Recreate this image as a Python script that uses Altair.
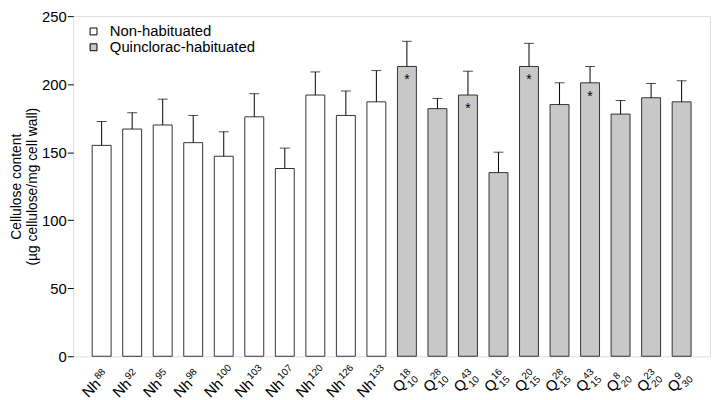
import altair as alt
import pandas as pd

# ---- data ----
base = ["Nh"] * 10 + ["Q"] * 10
sup = ["88", "92", "95", "98", "100", "103", "107", "120", "126", "133",
       "18", "28", "43", "16", "20", "28", "43", "8", "23", "9"]
sub = [""] * 10 + ["10", "10", "10", "15", "15", "15", "15", "20", "20", "30"]
values = [155, 167, 170, 157, 147, 176, 138, 192, 177, 187,
          213, 182, 192, 135, 213, 185, 201, 178, 190, 187]
errors = [17.5, 12, 19, 20, 18, 17, 15, 17, 18, 23,
          18.5, 7.5, 17.5, 15, 17, 16, 12, 10, 10.5, 15.5]
groups = ["Non-habituated"] * 10 + ["Quinclorac-habituated"] * 10
stars = [False] * 10 + [True, False, True, False, True, False, True, False, False, False]

ids = [f"{b}{p}_{s}" for b, p, s in zip(base, sup, sub)]
df = pd.DataFrame({
    "id": ids, "base": base, "sup": sup, "sub": sub,
    "value": values, "err": errors, "group": groups, "star": stars,
})
df["top"] = df["value"] + df["err"]
df["starText"] = ["*" if s else "" for s in stars]

W, H = 644, 344
FONT = "Liberation Sans"

x = alt.X("id:N", sort=ids, axis=None,
          scale=alt.Scale(paddingInner=0.38, paddingOuter=0.62))
y_scale = alt.Scale(domain=[0, 250], nice=False)

bars = alt.Chart(df).mark_bar(stroke="#333333", strokeWidth=1).encode(
    x=x,
    y=alt.Y("value:Q", scale=y_scale,
            axis=alt.Axis(values=[0, 50, 100, 150, 200, 250], grid=False,
                          domain=False, tickColor="black", tickSize=6,
                          labelFontSize=15, labelColor="black", labelFont=FONT,
                          labelPadding=1,
                          title=["Cellulose content", "(µg cellulose/mg cell wall)"],
                          titleFontSize=14, titleFont=FONT, titleFontWeight="normal",
                          titleColor="black", titleLineHeight=16,
                          titleAngle=270, titleAlign="center", titleBaseline="bottom",
                          titleX=-50, titleY=H / 2)),
    color=alt.Color("group:N",
                    scale=alt.Scale(domain=["Non-habituated", "Quinclorac-habituated"],
                                    range=["#ffffff", "#c8c8c8"]),
                    legend=alt.Legend(orient="none", legendX=13, legendY=8, title=None,
                                      symbolType="square", symbolSize=49,
                                      symbolStrokeColor="black", symbolStrokeWidth=1,
                                      labelFontSize=15, labelFont=FONT, labelColor="black",
                                      labelOffset=9, rowPadding=-1)),
)

err_rule = alt.Chart(df).mark_rule(color="black", strokeWidth=1).encode(
    x=x, y=alt.Y("value:Q", scale=y_scale), y2="top:Q")

err_cap = alt.Chart(df).mark_tick(color="black", thickness=1, size=10).encode(
    x=x, y=alt.Y("top:Q", scale=y_scale))

star_text = alt.Chart(df).mark_text(fontSize=14, font=FONT, color="black",
                                    baseline="alphabetic", dy=18).encode(
    x=x, y=alt.Y("value:Q", scale=y_scale), text="starText:N")

LY = H + 29
base_text = alt.Chart(df).mark_text(fontSize=15, font=FONT, color="black", angle=315,
                                    align="right", baseline="alphabetic").encode(
    x=x, y=alt.value(LY), text="base:N")
# dx/dy act along / across the rotated text
sup_text = alt.Chart(df).mark_text(fontSize=10, font=FONT, color="black", angle=315,
                                   align="left", baseline="alphabetic", dx=1, dy=-6).encode(
    x=x, y=alt.value(LY), text="sup:N")
sub_text = alt.Chart(df).mark_text(fontSize=10, font=FONT, color="black", angle=315,
                                   align="left", baseline="alphabetic", dx=1, dy=5).encode(
    x=x, y=alt.value(LY), text="sub:N")

chart = alt.layer(bars, err_rule, err_cap, star_text, base_text, sup_text, sub_text).properties(
    width=W, height=H,
    autosize=alt.AutoSizeParams(type="none"),
    padding={"left": 66, "top": 6, "right": 2, "bottom": 42},
).configure_view(stroke="black", strokeWidth=1).configure(background="white")

chart.save("out.html", embed_options={"renderer": "svg", "actions": False})
